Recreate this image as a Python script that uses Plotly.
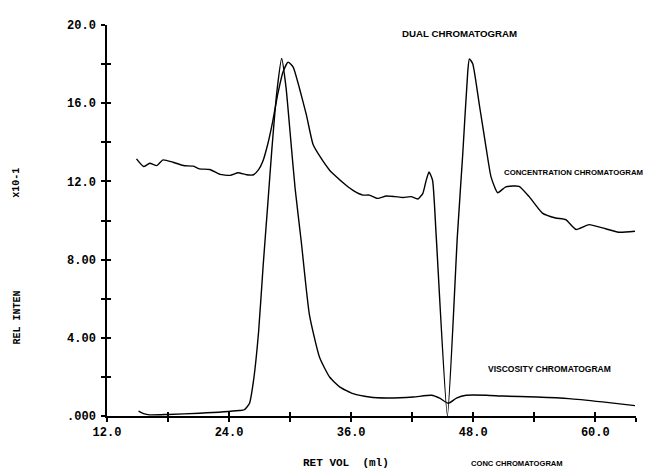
import plotly.graph_objects as go

# ---- data ----
conc_x = [14.9, 15.6, 16.2, 16.9, 17.5, 18.5, 19.5, 20.5, 21.1, 22.1, 23.1, 24.1, 24.9,
          25.7, 26.4, 26.9, 27.3, 27.8, 28.3, 28.8, 29.3, 29.8, 30.3, 30.9, 31.6, 32.25,
          32.9, 33.9, 34.2, 35.5, 36.3, 37.15, 37.8, 38.6, 39.45, 40.3, 41.1, 41.9, 42.55,
          43.05, 43.35, 43.65, 44.0, 44.36, 45.46, 46.44, 46.97, 47.46, 47.62, 47.95, 48.6,
          49.26, 49.75, 50.4, 51.2, 52.5, 53.5, 54.8, 56.1, 57.1, 58.1, 59.4, 60.7, 62.3, 63.9]
conc_y = [13.15, 12.76, 12.93, 12.81, 13.1, 12.98, 12.81, 12.78, 12.64, 12.61, 12.36, 12.31, 12.44,
          12.34, 12.34, 12.6, 13.0, 13.9, 15.1, 16.5, 17.6, 18.1, 17.85, 16.8, 15.4, 13.9,
          13.3, 12.56, 12.4, 11.8, 11.5, 11.3, 11.3, 11.13, 11.25, 11.22, 11.18, 11.22, 11.1,
          11.39, 12.0, 12.48, 12.06, 9.2, 0.0, 9.2, 13.4, 17.6, 18.27, 18.02, 15.92,
          13.74, 12.23, 11.42, 11.72, 11.75, 11.22, 10.38, 10.13, 10.04, 9.54, 9.79, 9.62, 9.4, 9.45]

visc_x = [15.1, 15.6, 16.2, 18.0, 21.1, 25.0, 25.5, 26.0, 26.4, 26.9, 27.35, 27.8, 28.2,
          28.7, 29.17, 29.6, 30.1, 30.5, 31.1, 31.9, 32.9, 33.9, 34.9, 36.2, 37.8, 39.5,
          42.1, 43.9, 44.7, 45.56, 46.35, 47.3, 49.3, 50.9, 54.2, 57.4, 60.7, 63.9]
visc_y = [0.25, 0.12, 0.06, 0.08, 0.14, 0.28, 0.32, 0.64, 1.8, 4.3, 7.7, 10.8, 13.6,
          16.6, 18.29, 16.8, 13.9, 11.6, 8.9, 5.17, 2.99, 1.98, 1.48, 1.14, 0.97, 0.92,
          0.97, 1.06, 0.91, 0.65, 0.91, 1.06, 1.06, 1.02, 0.97, 0.89, 0.72, 0.53]

x_tickvals = [12, 18, 24, 30, 36, 42, 48, 54, 60, 64]
x_ticktext = ["12.0", "", "24.0", "", "36.0", "", "48.0", "", "60.0", ""]
y_tickvals = [0, 2, 4, 6, 8, 10, 12, 14, 16, 18, 20]
y_ticktext = [".000", "", "4.00", "", "8.00", "", "12.0", "", "16.0", "", "20.0"]

MONO = "Liberation Mono, DejaVu Sans Mono, monospace"
COND = "Liberation Sans, Arial, sans-serif"

fig = go.Figure()
line = dict(color="black", width=1.4, shape="spline", smoothing=0.5)
fig.add_trace(go.Scatter(x=conc_x, y=conc_y, mode="lines", line=line, showlegend=False))
fig.add_trace(go.Scatter(x=visc_x, y=visc_y, mode="lines", line=line, showlegend=False))
# invisible trace to activate overlay axes (for crossing tick marks)
fig.add_trace(go.Scatter(x=[12], y=[0], xaxis="x2", yaxis="y2", mode="markers",
                         marker=dict(opacity=0), showlegend=False, hoverinfo="skip"))

axis_common = dict(showgrid=False, zeroline=False, showline=True, linecolor="black",
                   linewidth=1.5, tickcolor="black", tickwidth=1.5, ticklen=4)
# page body has an 8px default margin: figure is shrunk so the plot lands where the reference has it
fig.update_layout(
    width=643, height=466,
    margin=dict(l=99, r=15, t=11, b=58),
    paper_bgcolor="white", plot_bgcolor="white",
    xaxis=dict(range=[12, 64], tickmode="array", tickvals=x_tickvals, ticktext=x_ticktext,
               ticks="outside", tickfont=dict(family=MONO, size=12, color="black", weight="bold"),
               **axis_common),
    yaxis=dict(range=[0, 20], tickmode="array", tickvals=y_tickvals, ticktext=y_ticktext,
               ticks="outside", ticklabelstandoff=3,
               tickfont=dict(family=MONO, size=12, color="black", weight="bold"),
               **axis_common),
    xaxis2=dict(range=[12, 64], overlaying="x", anchor="y2", side="bottom", tickmode="array",
                tickvals=x_tickvals, ticks="inside", showticklabels=False, **axis_common),
    yaxis2=dict(range=[0, 20], overlaying="y", anchor="x2", side="left", tickmode="array",
                tickvals=y_tickvals, ticks="inside", showticklabels=False, **axis_common),
)

def ann(text, x, y, font, size, xanchor="center", angle=0):
    fig.add_annotation(text=text, x=x, y=y, xref="paper", yref="paper", showarrow=False,
                       xanchor=xanchor, yanchor="middle", textangle=angle, borderpad=0,
                       font=dict(family=font, size=size, color="black", weight="bold"))

ann("DUAL CHROMATOGRAM", 0.667, 0.977, COND, 9.7)
ann("CONCENTRATION CHROMATOGRAM", 0.749, 0.622, COND, 7.8, xanchor="left")
ann("VISCOSITY CHROMATOGRAM", 0.718, 0.121, COND, 8.5, xanchor="left")
ann("RET VOL  (ml)", 0.451, -0.121, MONO, 11)
ann("CONC CHROMATOGRAM", 0.775, -0.121, COND, 7.6)
ann("x10-1", -0.170, 0.597, MONO, 10, angle=-90)
ann("REL INTEN", -0.170, 0.252, MONO, 10, angle=-90)

fig.write_html("out.html")
